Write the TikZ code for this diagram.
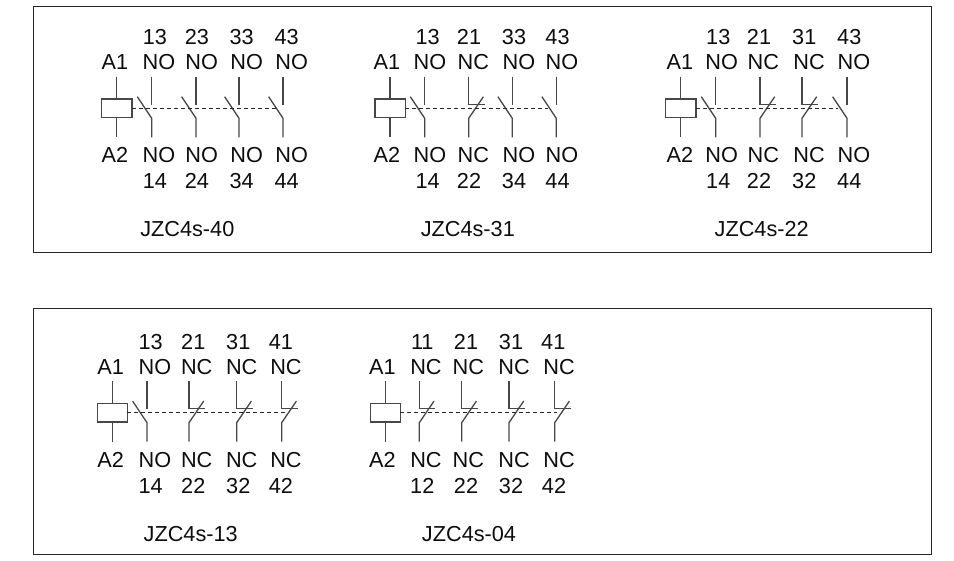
\documentclass[tikz,border=0pt]{standalone}
\usepackage{fontspec}
\setmainfont{Liberation Sans}
\tikzset{
  wire/.style={line width=1.3pt,color=black!72},
  link/.style={line width=0.9pt,color=black!85,dash pattern=on 4pt off 3pt},
  panel/.style={line width=1pt,color=black!85},
  lab/.style={inner sep=0pt,font=\fontsize{21.7}{23}\selectfont,color=black!95}
}
% coil at stem x, dashed level y
\newcommand{\coilsym}[2]{
\draw [wire] (#1-15,#2-9.3) rectangle (#1+15.3,#2+9.3);
\draw [wire] (#1,#2-31.6)--(#1,#2-9.3);
\draw [wire] (#1,#2+9.3)--(#1,#2+29);
}
\newcommand{\nosym}[2]{
\draw [wire] (#1,#2-31.6)--(#1,#2-3.3);
\draw [wire] (#1-14.4,#2-11.6)--(#1,#2+10)--(#1,#2+29);
}
\newcommand{\ncsym}[2]{
\draw [wire] (#1,#2-31.6)--(#1,#2-4)--(#1+16,#2-4);
\draw [wire] (#1+14.7,#2-11.6)--(#1,#2+10)--(#1,#2+29);
}
% one label column: name, x of numbers, x of type, upper row, lower row
\newcommand{\collab}[7]{
\node [lab] (#1a) at (#2,#4) {#6};
\node [lab] (#1b) at (#3,#4+25.3) {#7};
\node [lab] (#1c) at (#3,#5-26) {#7};
}
\begin{document}
\begin{tikzpicture}[x=1pt,y=-1pt]
\useasboundingbox (0,0) rectangle (954,561);
\draw [panel] (33.6,7) rectangle (931.3,252.3);
\draw [panel] (33.6,309) rectangle (931.3,554);
% JZC4s-40
\coilsym{116.7}{108.3}
\nosym{151.7}{108.3}
\nosym{196}{108.3}
\nosym{239}{108.3}
\nosym{283}{108.3}
\draw [link] (132,108.3)--(278,108.3);
\node [lab] (aOneA) at (115,62) {A1};
\node [lab] (aTwoA) at (115,155) {A2};
\collab{cA}{155}{159}{36.7}{181}{13}{NO}
\collab{dA}{197}{201.7}{36.7}{181}{23}{NO}
\collab{eA}{241.7}{246.7}{36.7}{181}{33}{NO}
\collab{fA}{286.7}{291.7}{36.7}{181}{43}{NO}
\node [lab] (nCa) at (155,181) {14};
\node [lab] (nDa) at (197,181) {24};
\node [lab] (nEa) at (241.7,181) {34};
\node [lab] (nFa) at (286.7,181) {44};
\node [lab] (titleA) at (187.3,229) {JZC4s-40};
% JZC4s-31
\coilsym{390}{108.3}
\nosym{424.7}{108.3}
\ncsym{468.7}{108.3}
\nosym{512.3}{108.3}
\nosym{556.3}{108.3}
\draw [link] (405,108.3)--(548,108.3);
\node [lab] (aOneB) at (387,62) {A1};
\node [lab] (aTwoB) at (387,155) {A2};
\collab{cB}{427.7}{430}{36.7}{181}{13}{NO}
\collab{dB}{469}{473.3}{36.7}{181}{21}{NC}
\collab{eB}{514}{519}{36.7}{181}{33}{NO}
\collab{fB}{557.5}{562}{36.7}{181}{43}{NO}
\node [lab] (nCb) at (427.7,181) {14};
\node [lab] (nDb) at (469,181) {22};
\node [lab] (nEb) at (514,181) {34};
\node [lab] (nFb) at (557.5,181) {44};
\node [lab] (titleB) at (467.8,229) {JZC4s-31};
% JZC4s-22
\coilsym{680.7}{108.3}
\nosym{715.7}{108.3}
\ncsym{760}{108.3}
\ncsym{802}{108.3}
\nosym{847}{108.3}
\draw [link] (696,108.3)--(838,108.3);
\node [lab] (aOneC) at (680,62) {A1};
\node [lab] (aTwoC) at (680,155) {A2};
\collab{cC}{718.3}{721.7}{36.7}{181}{13}{NO}
\collab{dC}{759}{763.3}{36.7}{181}{21}{NC}
\collab{eC}{804.3}{809}{36.7}{181}{31}{NC}
\collab{fC}{849.3}{854}{36.7}{181}{43}{NO}
\node [lab] (nCc) at (718.3,181) {14};
\node [lab] (nDc) at (759,181) {22};
\node [lab] (nEc) at (804.3,181) {32};
\node [lab] (nFc) at (849.3,181) {44};
\node [lab] (titleC) at (761.7,229) {JZC4s-22};
% JZC4s-13
\coilsym{112.3}{412.7}
\nosym{147}{412.7}
\ncsym{189}{412.7}
\ncsym{236.7}{412.7}
\ncsym{281.7}{412.7}
\draw [link] (127,412.7)--(286.7,412.7);
\node [lab] (aOneD) at (110.7,367.5) {A1};
\node [lab] (aTwoD) at (110.7,460) {A2};
\collab{cD}{150.7}{155}{342.2}{486}{13}{NO}
\collab{dD}{193.3}{196.7}{342.2}{486}{21}{NC}
\collab{eD}{238.3}{241.7}{342.2}{486}{31}{NC}
\collab{fD}{281}{286}{342.2}{486}{41}{NC}
\node [lab] (nCd) at (150.7,486) {14};
\node [lab] (nDd) at (193.3,486) {22};
\node [lab] (nEd) at (238.3,486) {32};
\node [lab] (nFd) at (281,486) {42};
\node [lab] (titleD) at (190.7,534.3) {JZC4s-13};
% JZC4s-04
\coilsym{385.3}{412.7}
\ncsym{419.3}{412.7}
\ncsym{461.7}{412.7}
\ncsym{509}{412.7}
\ncsym{554.7}{412.7}
\draw [link] (400,412.7)--(556.7,412.7);
\node [lab] (aOneE) at (382.3,367.5) {A1};
\node [lab] (aTwoE) at (382.3,460) {A2};
\collab{cE}{422.3}{426}{342.2}{486}{11}{NC}
\collab{dE}{466}{468.3}{342.2}{486}{21}{NC}
\collab{eE}{511}{514}{342.2}{486}{31}{NC}
\collab{fE}{553.3}{559}{342.2}{486}{41}{NC}
\node [lab] (nCe) at (422.3,486) {12};
\node [lab] (nDe) at (466,486) {22};
\node [lab] (nEe) at (511,486) {32};
\node [lab] (nFe) at (554,486) {42};
\node [lab] (titleE) at (469,534.3) {JZC4s-04};
\end{tikzpicture}
\end{document}
